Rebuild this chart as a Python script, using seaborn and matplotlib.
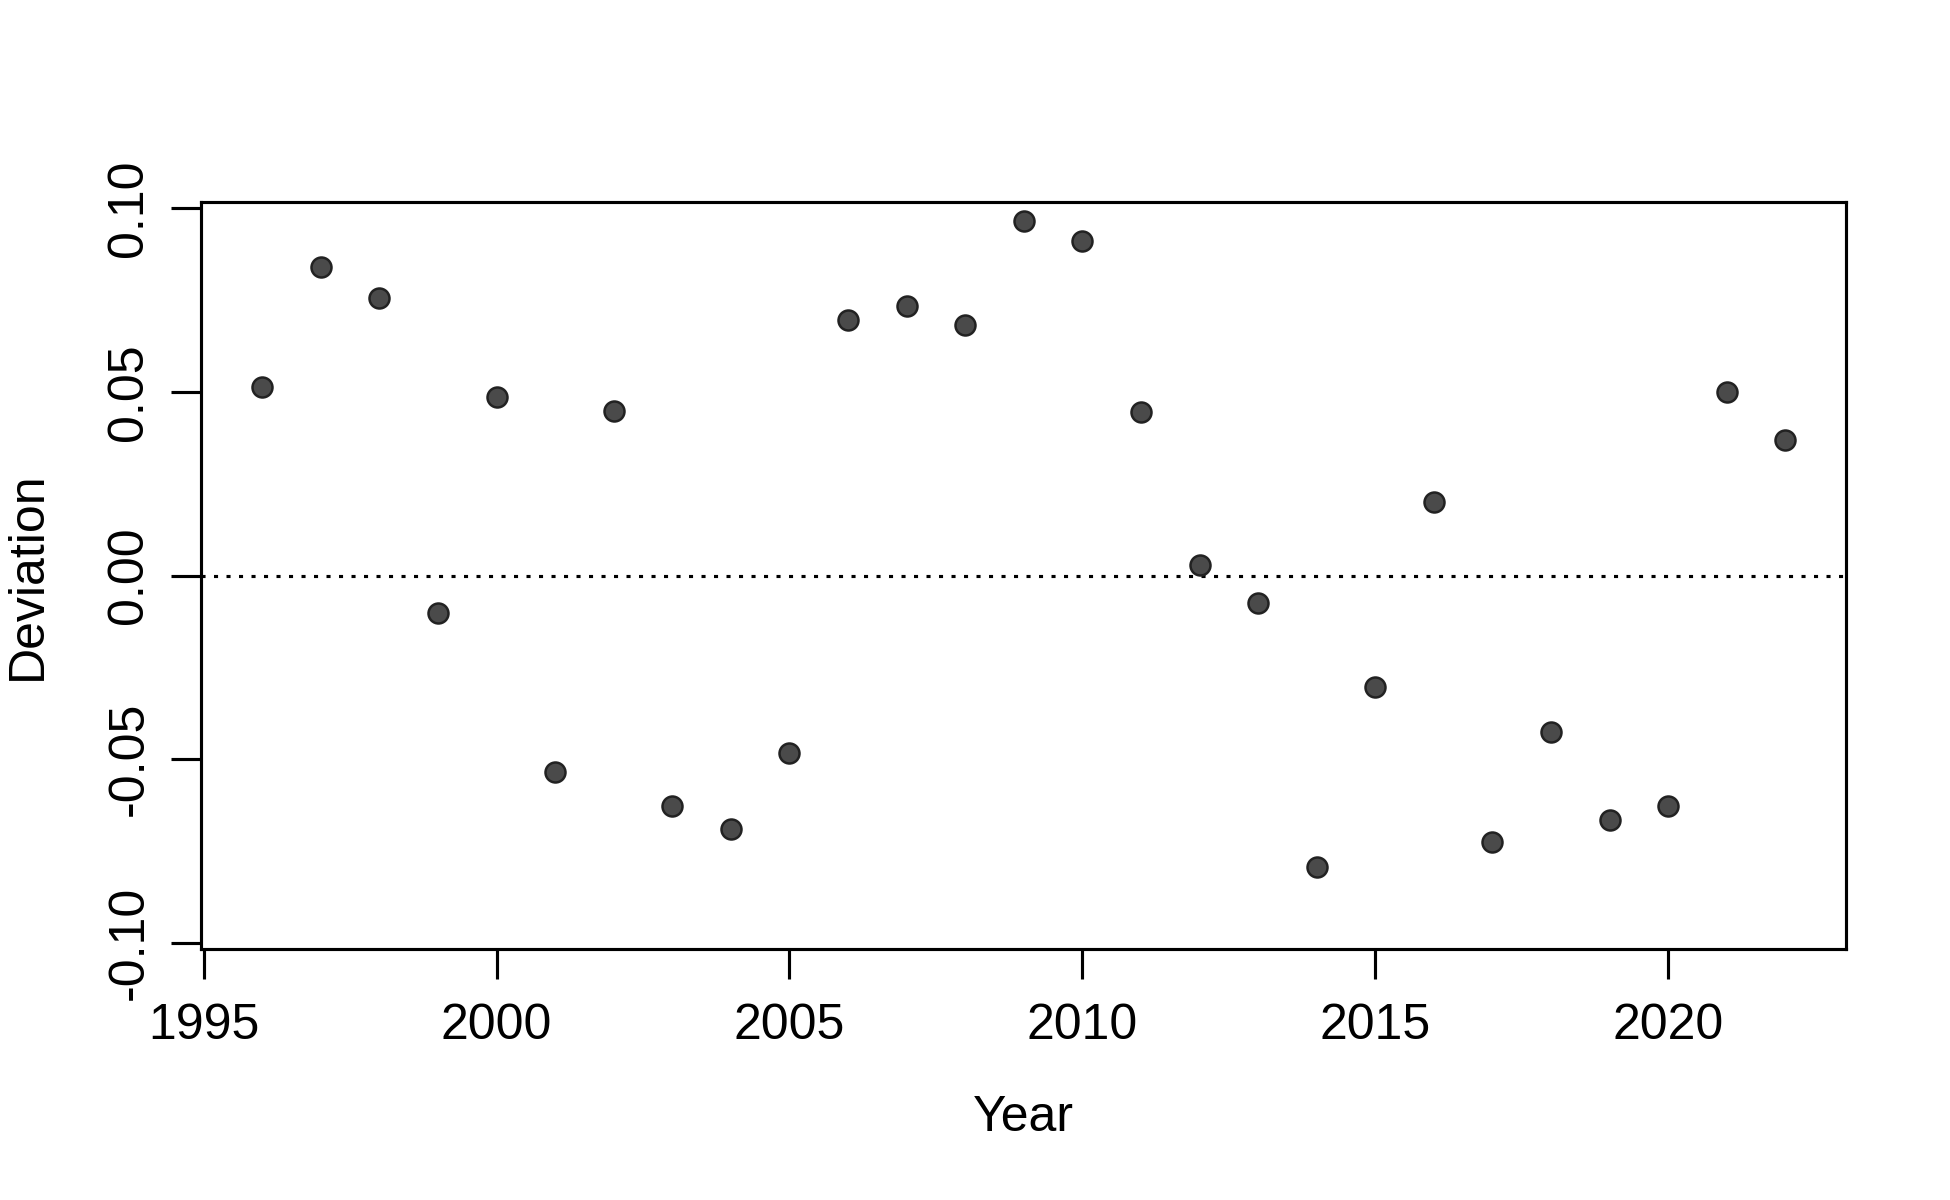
import matplotlib
matplotlib.use("Agg")
import matplotlib.pyplot as plt
import seaborn as sns
import pandas as pd

# yearly deviations
years = [1996, 1997, 1998, 1999, 2000, 2001, 2002, 2003, 2004, 2005,
         2006, 2007, 2008, 2009, 2010, 2011, 2012, 2013, 2014, 2015,
         2016, 2017, 2018, 2019, 2020, 2021, 2022]
deviation = [0.0514, 0.0841, 0.0757, -0.0101, 0.0486, -0.0534, 0.0449,
             -0.0628, -0.0689, -0.0483, 0.0696, 0.0733, 0.0682, 0.0966,
             0.0912, 0.0446, 0.0030, -0.0074, -0.0794, -0.0304, 0.0199,
             -0.0726, -0.0426, -0.0666, -0.0628, 0.0500, 0.0368]
x_ticks = [1995, 2000, 2005, 2010, 2015, 2020]
y_ticks = [-0.10, -0.05, 0.00, 0.05, 0.10]
y_tick_labels = ["-0.10", "-0.05", "0.00", "0.05", "0.10"]

df = pd.DataFrame({"Year": years, "Deviation": deviation})

sns.set_theme(style="ticks")
plt.rcParams["font.family"] = ["Liberation Sans", "DejaVu Sans"]
plt.rcParams["font.size"] = 12
plt.rcParams["text.color"] = "black"
plt.rcParams["axes.labelcolor"] = "black"

fig = plt.figure(figsize=(6.5, 4), dpi=300)
ax = fig.add_axes([0.1032, 0.2089, 0.9468 - 0.1032, 0.8319 - 0.2089])

sns.scatterplot(data=df, x="Year", y="Deviation", ax=ax, s=23,
                color="#4a4a4a", edgecolor="#222222", linewidth=0.6,
                zorder=3)
ax.axhline(0, color="black", lw=0.75, ls=(0, (1.3, 2.7)), zorder=2)

ax.set_xlim(1994.96, 2023.04)
ax.set_ylim(-0.1018, 0.1018)
ax.set_xticks(x_ticks)
ax.set_xticklabels([str(t) for t in x_ticks])
ax.set_yticks(y_ticks)
ax.set_yticklabels(y_tick_labels, rotation=90, va="center")

for sp in ax.spines.values():
    sp.set_visible(True)
    sp.set_linewidth(0.75)
    sp.set_color("black")
ax.tick_params(axis="both", direction="out", length=7.2, width=0.75,
               colors="black", labelsize=12)
ax.tick_params(axis="x", pad=5.7)
ax.tick_params(axis="y", pad=4.5)

ax.set_xlabel("Year", fontsize=12, labelpad=11)
ax.set_ylabel("Deviation", fontsize=12, labelpad=13.4)

fig.savefig("out.png", dpi=300, facecolor="white")
